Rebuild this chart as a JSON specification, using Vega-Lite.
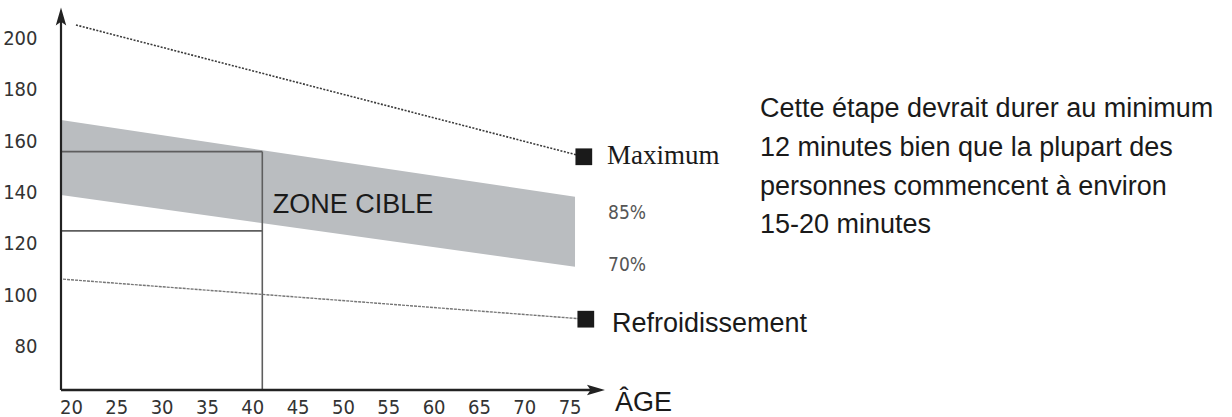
{
  "$schema": "https://vega.github.io/schema/vega-lite/v6.json",
  "width": 1171,
  "height": 390,
  "autosize": {"type": "none"},
  "padding": {"left": 61, "top": 0, "right": 0, "bottom": 27},
  "background": "white",
  "config": {
    "view": {"stroke": null},
    "axis": {"domain": false, "ticks": false, "grid": false, "title": null,
             "labelFont": "Liberation Sans Narrow, DejaVu Sans Condensed, sans-serif",
             "labelFontSize": 20, "labelColor": "#333333"}
  },
  "datasets": {
    "band": [
      {"age": 18.908, "hr": 168.2, "hr2": 139.0},
      {"age": 75.6, "hr": 138.3, "hr2": 111.0}
    ],
    "boxh": [
      {"age": 18.908, "age2": 41.11, "hr": 155.9},
      {"age": 18.908, "age2": 41.11, "hr": 125.0}
    ],
    "boxv": [
      {"age": 41.11, "hr": 63, "hr2": 155.9}
    ],
    "maxline": [
      {"age": 20.56, "hr": 205.26},
      {"age": 76.57, "hr": 153.9}
    ],
    "coolline": [
      {"age": 19.13, "hr": 106.2},
      {"age": 76.79, "hr": 90.6}
    ],
    "markers": [
      {"age": 76.57, "hr": 153.9},
      {"age": 76.79, "hr": 90.6}
    ],
    "yaxis": [{"age": 18.908, "hr": 63, "hr2": 208}],
    "xaxis": [{"age": 18.908, "age2": 77.6, "hr": 63}],
    "yarrow": [{"age": 18.908, "hr": 208.6}],
    "xarrow": [{"age": 77.91, "hr": 63}],
    "sans": [
      {"age": 42.26, "hr": 131.9, "label": "ZONE CIBLE"},
      {"age": 79.68, "hr": 85.7, "label": "Refroidissement"},
      {"age": 80.01, "hr": 54.95, "label": "ÂGE"},
      {"age": 96.0, "hr": 169.5, "label": "Cette étape devrait durer au minimum"},
      {"age": 96.0, "hr": 154.2, "label": "12 minutes bien que la plupart des"},
      {"age": 96.0, "hr": 139.0, "label": "personnes commencent à environ"},
      {"age": 96.0, "hr": 124.1, "label": "15-20 minutes"}
    ],
    "serif": [
      {"age": 79.13, "hr": 151.0, "label": "Maximum"}
    ],
    "pct": [
      {"age": 79.24, "hr": 132.0, "label": "85%"},
      {"age": 79.24, "hr": 111.7, "label": "70%"}
    ]
  },
  "encoding": {
    "x": {"field": "age", "type": "quantitative",
          "scale": {"domain": [18.908, 148.06], "nice": false, "zero": false},
          "axis": {"values": [20, 25, 30, 35, 40, 45, 50, 55, 60, 65, 70, 75], "labelPadding": 7}},
    "y": {"field": "hr", "type": "quantitative",
          "scale": {"domain": [63, 215], "nice": false, "zero": false},
          "axis": {"values": [80, 100, 120, 140, 160, 180, 200], "labelPadding": 24}}
  },
  "layer": [
    {"data": {"name": "band"}, "mark": {"type": "area", "color": "#babdc0"},
     "encoding": {"y2": {"field": "hr2"}}},
    {"data": {"name": "boxh"}, "mark": {"type": "rule", "color": "#5e5e5e", "strokeWidth": 1.6},
     "encoding": {"x2": {"field": "age2"}}},
    {"data": {"name": "boxv"}, "mark": {"type": "rule", "color": "#5e5e5e", "strokeWidth": 1.6},
     "encoding": {"y2": {"field": "hr2"}}},
    {"data": {"name": "maxline"}, "mark": {"type": "line", "color": "#3a3a3a", "strokeWidth": 1.6, "strokeDash": [2, 1.5]},
     "encoding": {}},
    {"data": {"name": "coolline"}, "mark": {"type": "line", "color": "#777777", "strokeWidth": 1.4, "strokeDash": [3, 1]},
     "encoding": {}},
    {"data": {"name": "markers"}, "mark": {"type": "point", "shape": "square", "filled": true, "size": 280, "color": "#1a1a1a", "opacity": 1},
     "encoding": {}},
    {"data": {"name": "yaxis"}, "mark": {"type": "rule", "color": "#222222", "strokeWidth": 2.2},
     "encoding": {"y2": {"field": "hr2"}}},
    {"data": {"name": "xaxis"}, "mark": {"type": "rule", "color": "#222222", "strokeWidth": 2.6},
     "encoding": {"x2": {"field": "age2"}}},
    {"data": {"name": "yarrow"}, "mark": {"type": "point", "shape": "M0,-1L0.58,1L0,0.6L-0.58,1Z", "filled": true, "size": 324, "color": "#222222", "opacity": 1},
     "encoding": {}},
    {"data": {"name": "xarrow"}, "mark": {"type": "point", "shape": "M1,0L-1,-0.58L-0.6,0L-1,0.58Z", "filled": true, "size": 324, "color": "#222222", "opacity": 1},
     "encoding": {}},
    {"data": {"name": "sans"}, "mark": {"type": "text", "align": "left", "baseline": "alphabetic", "font": "Liberation Sans, Arial, sans-serif", "fontSize": 27, "color": "#1a1a1a"},
     "encoding": {"text": {"field": "label"}}},
    {"data": {"name": "serif"}, "mark": {"type": "text", "align": "left", "baseline": "alphabetic", "font": "Liberation Serif, Times New Roman, serif", "fontSize": 27, "color": "#1a1a1a"},
     "encoding": {"text": {"field": "label"}}},
    {"data": {"name": "pct"}, "mark": {"type": "text", "align": "left", "baseline": "middle", "font": "Liberation Sans Narrow, DejaVu Sans Condensed, sans-serif", "fontSize": 19, "color": "#555555"},
     "encoding": {"text": {"field": "label"}}}
  ]
}
